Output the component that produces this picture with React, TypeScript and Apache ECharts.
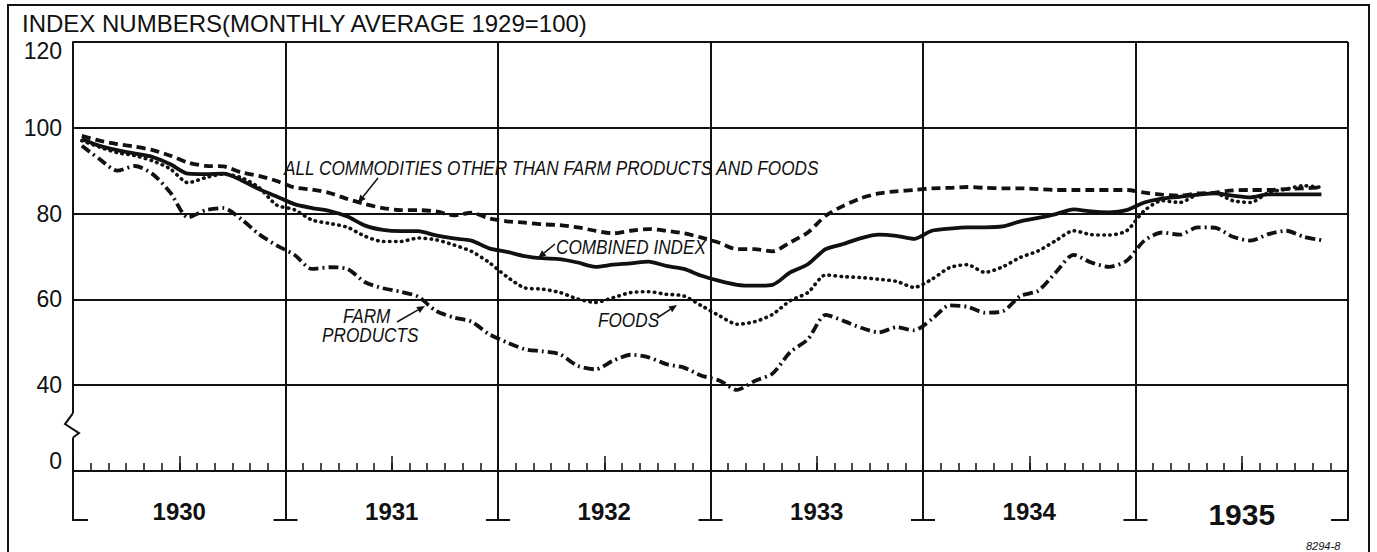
import React, { useEffect, useRef } from "react";
import * as echarts from "echarts";

// ---- data (monthly, Jan 1930 .. Nov 1935; index numbers, 1929 = 100) ----
const YEARS = ["1930", "1931", "1932", "1933", "1934", "1935"];
const Y_MIN = 20; // drawn and labelled as "0" (broken axis)
const Y_MAX = 120;
const Y_STEP = 20;
const MONTHS_SPAN = 72;

const otherCommodities = [
  98.1, 97.0, 96.2, 95.6, 94.8, 93.5, 91.9, 91.1, 91.0, 89.6, 88.8, 87.6,
  86.1, 85.6, 84.8, 83.4, 82.2, 81.3, 80.8, 80.8, 80.5, 79.6, 80.2, 78.9,
  78.2, 77.9, 77.5, 77.3, 76.8, 76.0, 75.4, 76.0, 76.4, 76.0, 75.4, 74.4,
  73.2, 71.7, 71.7, 71.2, 73.3, 75.6, 79.5, 81.8, 83.6, 84.7, 85.2, 85.5,
  85.9, 86.0, 86.2, 86.0, 85.9, 85.9, 85.7, 85.5, 85.5, 85.5, 85.5, 85.5,
  84.9, 84.4, 84.2, 84.7, 84.9, 85.4, 85.5, 85.5, 85.7, 85.9, 86.1,
];
const combinedIndex = [
  97.4, 95.8, 94.8, 94.0, 93.2, 91.5, 89.3, 89.2, 89.3, 87.8, 85.7, 84.0,
  82.2, 81.3, 80.6, 79.3, 77.2, 76.2, 75.9, 75.9, 74.9, 74.2, 73.7, 71.9,
  71.1, 70.1, 69.6, 69.4, 68.6, 67.6, 68.1, 68.4, 68.8, 67.8, 67.1, 65.5,
  64.3, 63.4, 63.2, 63.4, 66.3, 68.2, 71.7, 72.9, 74.3, 75.1, 74.8, 74.1,
  76.0, 76.5, 76.8, 76.8, 77.0, 78.2, 79.0, 79.9, 81.0, 80.5, 80.3, 80.8,
  82.6, 83.5, 83.9, 84.4, 84.7, 84.2, 83.8, 84.5, 84.5, 84.5, 84.5,
];
const foods = [
  97.0, 95.5, 94.2, 93.5, 92.3, 90.4, 87.2, 88.4, 89.2, 88.4, 86.1, 82.0,
  80.9, 78.5, 77.7, 76.8, 74.7, 73.5, 73.5, 74.3, 73.9, 72.7, 71.2, 68.6,
  65.3, 62.7, 62.4, 61.6, 60.1, 59.3, 60.4, 61.6, 61.8, 61.2, 60.8, 58.5,
  56.2, 54.2, 54.8, 56.5, 59.7, 61.6, 65.7, 65.3, 65.1, 64.7, 64.2, 62.8,
  64.7, 67.4, 68.1, 66.3, 67.6, 69.8, 71.3, 73.7, 76.0, 75.1, 75.0, 76.0,
  80.7, 83.0, 82.6, 84.4, 84.7, 83.0, 82.6, 84.9, 85.7, 86.5, 86.1,
];
const farmProducts = [
  95.8, 92.7, 90.0, 91.1, 89.2, 84.9, 79.1, 80.8, 81.3, 78.7, 75.2, 72.6,
  70.4, 67.1, 67.5, 67.1, 64.0, 62.6, 61.8, 60.6, 57.3, 55.8, 54.8, 51.9,
  50.0, 48.4, 47.9, 47.2, 44.5, 43.7, 45.7, 47.1, 46.5, 44.9, 44.1, 42.2,
  41.1, 38.9, 41.0, 42.7, 47.7, 50.7, 56.4, 55.0, 53.4, 52.3, 53.5, 52.8,
  55.4, 58.6, 58.3, 56.9, 57.2, 60.8, 62.0, 66.3, 70.4, 68.6, 67.6, 69.0,
  73.7, 75.6, 75.1, 76.8, 76.7, 74.6, 73.7, 75.2, 76.0, 74.6, 73.8,
];

const FONT = "'Liberation Sans', Arial, 'DejaVu Sans', sans-serif";
const INK = "#111";

const toPoints = (arr: number[]) => arr.map((v, i) => [i + 0.5, v]);

function arrow(x1: number, y1: number, x2: number, y2: number): any[] {
  const dx = x2 - x1;
  const dy = y2 - y1;
  const len = Math.sqrt(dx * dx + dy * dy) || 1;
  const ux = dx / len;
  const uy = dy / len;
  const hl = 8;
  const hw = 3.5;
  const bx = x2 - ux * hl;
  const by = y2 - uy * hl;
  return [
    {
      type: "line",
      z: 100,
      shape: { x1, y1, x2: bx, y2: by },
      style: { stroke: INK, lineWidth: 1.5 },
    },
    {
      type: "polygon",
      z: 100,
      shape: {
        points: [
          [x2, y2],
          [bx - uy * hw, by + ux * hw],
          [bx + uy * hw, by - ux * hw],
        ],
      },
      style: { fill: INK },
    },
  ];
}

function note(text: string, x: number, y: number): any {
  return {
    type: "text",
    z: 100,
    x,
    y,
    scaleX: 0.86,
    style: {
      text,
      fill: INK,
      font: `italic 20px ${FONT}`,
      verticalAlign: "middle",
      align: "left",
    },
  };
}

export default function App() {
  const ref = useRef<HTMLDivElement>(null);

  useEffect(() => {
    if (!ref.current) return;
    const chart = echarts.init(ref.current, undefined, { renderer: "svg" });

    const lineBase = { type: "line", xAxisIndex: 0, yAxisIndex: 0, symbol: "none", smooth: 0.25, z: 5 };

    chart.setOption({
      animation: false,
      backgroundColor: "#fff",
      grid: { left: 73, right: 29, top: 42, bottom: 81, containLabel: false },
      xAxis: [
        {
          type: "value",
          position: "bottom",
          min: 0,
          max: MONTHS_SPAN,
          interval: 1,
          axisLine: { show: true, onZero: false, lineStyle: { color: INK, width: 2 } },
          axisTick: { show: true, inside: true, length: 8, lineStyle: { color: INK, width: 1.5 } },
          axisLabel: { show: false },
          splitLine: { show: false },
        },
        {
          type: "value",
          position: "bottom",
          min: 0,
          max: MONTHS_SPAN,
          interval: 6,
          axisLine: { show: false },
          axisTick: { show: true, inside: true, length: 15, lineStyle: { color: INK, width: 1.5 } },
          axisLabel: { show: false },
          splitLine: { show: false },
        },
        {
          type: "category",
          position: "bottom",
          data: YEARS,
          boundaryGap: true,
          axisLine: { show: false },
          axisTick: { show: true, inside: false, length: 49, lineStyle: { color: INK, width: 2 } },
          axisLabel: {
            show: true,
            margin: 28,
            color: INK,
            fontFamily: FONT,
            fontSize: 24,
            fontWeight: "bold",
            formatter: (v: string) => (v === "1935" ? "{big|" + v + "}" : v),
            rich: {
              big: { fontFamily: FONT, fontSize: 30, fontWeight: "bold", color: INK },
            },
          },
          splitLine: { show: true, lineStyle: { color: INK, width: 2 } },
        },
      ],
      yAxis: [
        {
          type: "value",
          min: Y_MIN,
          max: Y_MAX,
          interval: Y_STEP,
          axisLine: { show: true, lineStyle: { color: INK, width: 2 } },
          axisTick: { show: false },
          axisLabel: {
            color: INK,
            fontFamily: FONT,
            fontSize: 23,
            margin: 11,
            formatter: (v: number) => (v === Y_MIN || v === Y_MAX ? "" : String(v)),
          },
          splitLine: { show: true, lineStyle: { color: INK, width: 1.8 } },
        },
      ],
      series: [
        {
          ...lineBase,
          name: "All commodities other than farm products and foods",
          data: toPoints(otherCommodities),
          lineStyle: { color: INK, width: 3.8, type: [9, 5] },
        },
        {
          ...lineBase,
          name: "Combined index",
          data: toPoints(combinedIndex),
          lineStyle: { color: INK, width: 3.8, type: "solid" },
        },
        {
          ...lineBase,
          name: "Foods",
          data: toPoints(foods),
          lineStyle: { color: INK, width: 3.6, type: [0.5, 5.5], cap: "round" },
        },
        {
          ...lineBase,
          name: "Farm products",
          data: toPoints(farmProducts),
          lineStyle: { color: INK, width: 3.8, type: [10, 4, 2, 4] },
        },
      ],
    });

    const px = (x: number, y: number) => chart.convertToPixel({ gridIndex: 0 }, [x, y]) as number[];
    const [x0, yBase] = px(0, Y_MIN);
    const yTop = px(0, Y_MAX)[1];
    const bracketY = yBase + 49;

    const graphics: any[] = [];
    // outer frame
    graphics.push({
      type: "rect",
      z: 100,
      shape: { x: 8, y: 5, width: 1361, height: 560 },
      style: { fill: "none", stroke: INK, lineWidth: 2 },
    });
    // title
    graphics.push({
      type: "text",
      z: 100,
      x: 22,
      y: 23,
      style: {
        text: "INDEX NUMBERS(MONTHLY AVERAGE 1929=100)",
        fill: INK,
        font: `24px ${FONT}`,
        verticalAlign: "middle",
        align: "left",
      },
    });
    // special axis labels
    graphics.push({
      type: "text",
      z: 100,
      x: x0 - 11,
      y: yTop + 9,
      style: { text: String(Y_MAX), fill: INK, font: `23px ${FONT}`, align: "right", verticalAlign: "middle" },
    });
    graphics.push({
      type: "text",
      z: 100,
      x: x0 - 11,
      y: yBase - 10,
      style: { text: "0", fill: INK, font: `23px ${FONT}`, align: "right", verticalAlign: "middle" },
    });
    // bracket serifs at the foot of the year lines
    for (let k = 0; k <= YEARS.length; k++) {
      const bx = px(k * 12, Y_MIN)[0];
      let a = bx - 12;
      let b = bx + 12;
      if (k === 0) {
        a = bx - 1;
        b = bx + 15;
      }
      if (k === YEARS.length) {
        a = bx - 17;
        b = bx + 1;
      }
      graphics.push({
        type: "line",
        z: 100,
        shape: { x1: a, y1: bracketY, x2: b, y2: bracketY },
        style: { stroke: INK, lineWidth: 2 },
      });
    }
    // axis break zigzag
    const yb1 = px(0, 33.5)[1];
    const yb2 = px(0, 27.8)[1];
    graphics.push({
      type: "rect",
      z: 99,
      shape: { x: x0 - 3, y: yb1, width: 6, height: yb2 - yb1 },
      style: { fill: "#fff" },
    });
    graphics.push({
      type: "polyline",
      z: 100,
      shape: {
        points: [
          [x0, yb1],
          [x0 - 8, yb1 + (yb2 - yb1) * 0.45],
          [x0 + 6, yb1 + (yb2 - yb1) * 0.82],
          [x0, yb2],
        ],
      },
      style: { stroke: INK, lineWidth: 2, fill: "none" },
    });
    // annotations
    graphics.push(note("ALL COMMODITIES OTHER THAN FARM PRODUCTS AND FOODS", 284, 168));
    graphics.push(...arrow(378, 178, 358, 203));
    graphics.push(note("COMBINED INDEX", 556, 247));
    graphics.push(...arrow(555, 244, 538, 258));
    graphics.push(note("FOODS", 598, 320));
    graphics.push(...arrow(657, 318, 677, 305));
    graphics.push(note("FARM", 343, 316));
    graphics.push(note("PRODUCTS", 322, 335));
    graphics.push(...arrow(397, 322, 425, 306));
    // drawing number
    graphics.push({
      type: "text",
      z: 100,
      x: 1306,
      y: 546,
      style: { text: "8294-8", fill: INK, font: `italic 11px ${FONT}`, align: "left", verticalAlign: "middle" },
    });

    chart.setOption({ graphic: { elements: graphics } });

    return () => chart.dispose();
  }, []);

  return (
    <div
      ref={ref}
      style={{ position: "absolute", left: 0, top: 0, width: 1377, height: 552, background: "#fff" }}
    />
  );
}
